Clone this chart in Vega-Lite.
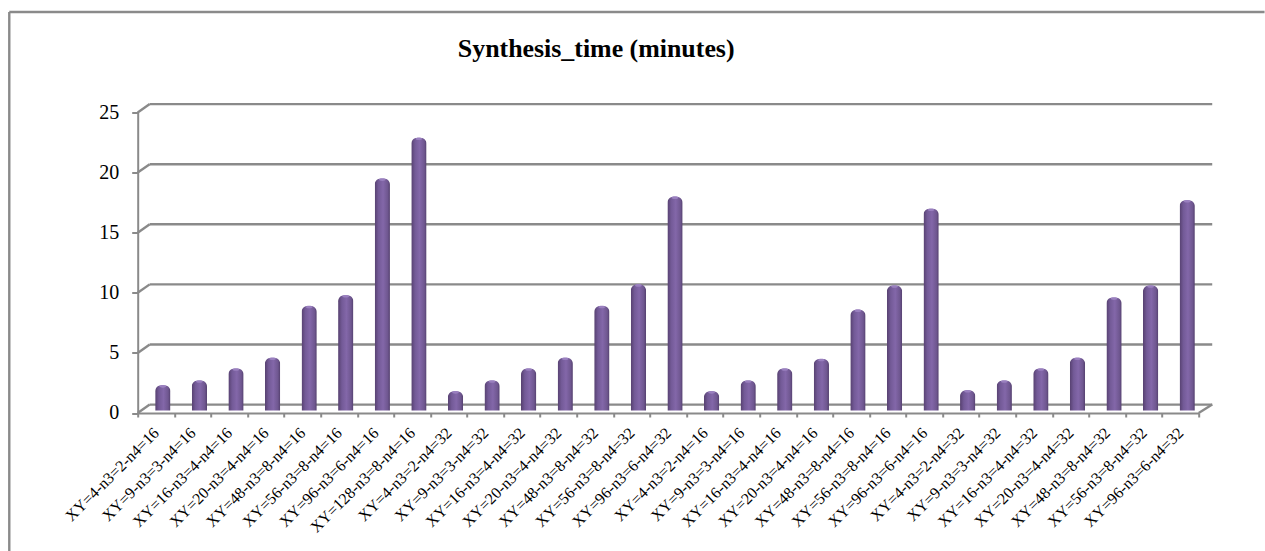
{"$schema":"https://vega.github.io/schema/vega-lite/v6.json","width":1061,"height":300.5,"autosize":{"type":"none"},"padding":{"left":137.7,"top":112.5,"right":66,"bottom":138},"background":"white","config":{"view":{"stroke":null},"font":"Liberation Serif"},"title":{"text":"Synthesis_time (minutes)","font":"Liberation Serif","fontSize":25.9,"fontWeight":"bold","color":"#000000","anchor":"middle","dx":-72,"offset":0,"dy":52},"datasets":{"bars":[{"key":"01|XY=4-n3=2-n4=16","v":2.3},{"key":"02|XY=9-n3=3-n4=16","v":2.7},{"key":"03|XY=16-n3=4-n4=16","v":3.7},{"key":"04|XY=20-n3=4-n4=16","v":4.6},{"key":"05|XY=48-n3=8-n4=16","v":8.9},{"key":"06|XY=56-n3=8-n4=16","v":9.8},{"key":"07|XY=96-n3=6-n4=16","v":19.5},{"key":"08|XY=128-n3=8-n4=16","v":22.9},{"key":"09|XY=4-n3=2-n4=32","v":1.8},{"key":"10|XY=9-n3=3-n4=32","v":2.7},{"key":"11|XY=16-n3=4-n4=32","v":3.7},{"key":"12|XY=20-n3=4-n4=32","v":4.6},{"key":"13|XY=48-n3=8-n4=32","v":8.9},{"key":"14|XY=56-n3=8-n4=32","v":10.7},{"key":"15|XY=96-n3=6-n4=32","v":18.0},{"key":"16|XY=4-n3=2-n4=16","v":1.8},{"key":"17|XY=9-n3=3-n4=16","v":2.7},{"key":"18|XY=16-n3=4-n4=16","v":3.7},{"key":"19|XY=20-n3=4-n4=16","v":4.5},{"key":"20|XY=48-n3=8-n4=16","v":8.6},{"key":"21|XY=56-n3=8-n4=16","v":10.6},{"key":"22|XY=96-n3=6-n4=16","v":17.0},{"key":"23|XY=4-n3=2-n4=32","v":1.9},{"key":"24|XY=9-n3=3-n4=32","v":2.7},{"key":"25|XY=16-n3=4-n4=32","v":3.7},{"key":"26|XY=20-n3=4-n4=32","v":4.6},{"key":"27|XY=48-n3=8-n4=32","v":9.6},{"key":"28|XY=56-n3=8-n4=32","v":10.6},{"key":"29|XY=96-n3=6-n4=32","v":17.7}],"lines":[{"a":0.328,"b":29.37,"p":0.7,"q":0.7},{"a":0.328,"b":29.37,"p":5.7,"q":5.7},{"a":0.328,"b":29.37,"p":10.7,"q":10.7},{"a":0.328,"b":29.37,"p":15.7,"q":15.7},{"a":0.328,"b":29.37,"p":20.7,"q":20.7},{"a":0.328,"b":29.37,"p":25.7,"q":25.7},{"a":0,"b":0.328,"p":0,"q":0.7},{"a":0,"b":0.328,"p":5,"q":5.7},{"a":0,"b":0.328,"p":10,"q":10.7},{"a":0,"b":0.328,"p":15,"q":15.7},{"a":0,"b":0.328,"p":20,"q":20.7},{"a":0,"b":0.328,"p":25,"q":25.7},{"a":29,"b":29.37,"p":0,"q":0.7},{"a":-3.51,"b":-3.51,"p":-11.6,"q":33.36},{"a":-3.51,"b":30.8,"p":33.36,"q":33.36}]},"layer":[{"data":{"name":"lines"},"mark":{"type":"rule","color":"#8a8a8a","strokeWidth":2.4,"clip":false},"encoding":{"x":{"field":"a","type":"quantitative","scale":{"domain":[0,29],"nice":false,"zero":false},"axis":null},"x2":{"field":"b"},"y":{"field":"p","type":"quantitative","scale":{"domain":[0,25],"nice":false,"zero":false},"axis":{"title":null,"values":[0,5,10,15,20,25],"grid":false,"domainColor":"#8a8a8a","domainWidth":2,"tickColor":"#8a8a8a","tickWidth":2,"tickSize":6,"labelFont":"Liberation Serif","labelFontSize":20,"labelColor":"#000000","labelPadding":13}},"y2":{"field":"q"}}},{"data":{"name":"bars"},"mark":{"type":"bar","size":15.3,"xOffset":6.8,"yOffset":-2.5,"cornerRadiusTopLeft":6,"cornerRadiusTopRight":6,"cornerRadiusBottomLeft":2,"cornerRadiusBottomRight":2,"color":{"gradient":"linear","x1":0,"y1":0,"x2":1,"y2":0,"stops":[{"offset":0,"color":"#56406f"},{"offset":0.25,"color":"#735a97"},{"offset":0.55,"color":"#8367a9"},{"offset":0.85,"color":"#6f5790"},{"offset":1,"color":"#54406e"}]}},"encoding":{"x":{"field":"key","type":"nominal","sort":"ascending","scale":{"paddingInner":0,"paddingOuter":0},"axis":{"title":null,"labelExpr":"split(datum.label,'|')[1]","labelAngle":-45,"labelAlign":"right","labelBaseline":"middle","labelFont":"Liberation Serif","labelFontSize":16,"labelColor":"#000000","labelPadding":13,"labelOverlap":false,"labelLimit":0,"domainColor":"#8a8a8a","domainWidth":2,"tickColor":"#8a8a8a","tickWidth":2,"tickSize":4,"tickBand":"extent","grid":false}},"y":{"field":"v","type":"quantitative"}}},{"data":{"name":"bars"},"mark":{"type":"point","filled":true,"shape":"M-1,0 A1,0.38 0 1 1 1,0 A1,0.38 0 1 1 -1,0 Z","size":45,"color":"#9a80bf","opacity":1,"xOffset":6.8,"yOffset":1},"encoding":{"x":{"field":"key","type":"nominal","sort":"ascending","scale":{"paddingInner":0,"paddingOuter":0},"axis":null},"y":{"field":"v","type":"quantitative"}}}],"resolve":{"scale":{"x":"independent"},"axis":{"x":"independent"}}}
